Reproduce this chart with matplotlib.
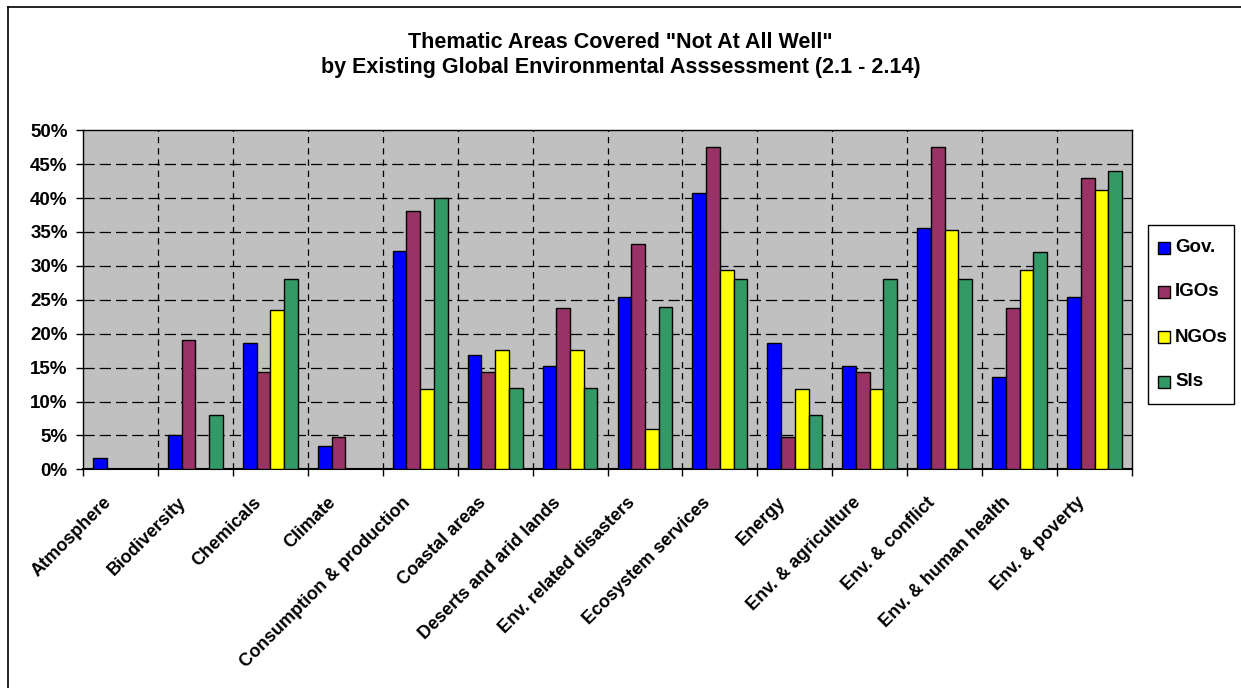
import numpy as np
import matplotlib
matplotlib.use("Agg")
import matplotlib.pyplot as plt
from matplotlib.lines import Line2D
from matplotlib.patches import Rectangle
from matplotlib.transforms import ScaledTranslation
from matplotlib.ticker import FixedLocator, PercentFormatter

plt.rcParams["font.family"] = ["Liberation Sans", "DejaVu Sans"]
plt.rcParams["font.weight"] = "bold"

# Thematic areas (x categories)
categories = [
    "Atmosphere", "Biodiversity", "Chemicals", "Climate",
    "Consumption & production", "Coastal areas", "Deserts and arid lands",
    "Env. related disasters", "Ecosystem services", "Energy",
    "Env. & agriculture", "Env. & conflict", "Env. & human health",
    "Env. & poverty",
]

# Share answering "not at all well" (%)
gov = [1.6, 5.1, 18.6, 3.4, 32.2, 16.9, 15.3, 25.4, 40.7, 18.6, 15.3, 35.6, 13.6, 25.4]
igos = [0.0, 19.0, 14.3, 4.8, 38.1, 14.3, 23.8, 33.3, 47.6, 4.8, 14.3, 47.6, 23.8, 42.9]
ngos = [0.0, 0.0, 23.5, 0.0, 11.8, 17.6, 17.6, 5.9, 29.4, 11.8, 11.8, 35.3, 29.4, 41.2]
sis = [0.0, 8.0, 28.0, 0.0, 40.0, 12.0, 12.0, 24.0, 28.0, 8.0, 28.0, 28.0, 32.0, 44.0]

series = [("Gov.", gov, "#0000FF"), ("IGOs", igos, "#993366"),
          ("NGOs", ngos, "#FFFF00"), ("SIs", sis, "#339966")]

W, H = 1241, 688
fig = plt.figure(figsize=(W / 100, H / 100), dpi=100)
ax = fig.add_axes([83 / W, 1 - 469.3 / H, (1132 - 83) / W, (469.3 - 130.3) / H])
ax.set_facecolor("#C0C0C0")

x = np.arange(len(categories))
w = 0.183
for i, (name, vals, col) in enumerate(series):
    vals = np.asarray(vals)
    keep = vals > 0  # empty categories show no bar at all
    ax.bar(x[keep] + (i - 1.5) * w, vals[keep], w, color=col,
           edgecolor="black", linewidth=1.0, label=name, zorder=3)

ax.set_xlim(-0.5, len(categories) - 0.5)
ax.set_ylim(0, 50)

# dashed grid: horizontal every 5%, vertical between categories
for yv in range(5, 50, 5):
    ax.axhline(yv, color="black", lw=0.9, ls=(0, (9, 4)), zorder=1)
for xv in np.arange(0.5, len(categories) - 0.5, 1):
    ax.axvline(xv, color="black", lw=0.9, ls=(0, (5, 4)), zorder=1)

ax.set_yticks(range(0, 51, 5))
ax.yaxis.set_major_formatter(PercentFormatter(decimals=0))
ax.tick_params(axis="y", direction="out", length=5, width=1, labelsize=13.5,
               pad=6)

ax.set_xticks(x)
ax.set_xticklabels(categories, rotation=45, ha="right", rotation_mode="anchor",
                   fontsize=13, fontweight="bold")
ax.tick_params(axis="x", which="major", length=0, pad=12)
shift = ScaledTranslation(-18 / 100, -8 / 100, fig.dpi_scale_trans)
for lbl in ax.get_xticklabels():
    lbl.set_transform(lbl.get_transform() + shift)
ax.xaxis.set_minor_locator(FixedLocator(np.arange(-0.5, len(categories), 1)))
ax.tick_params(axis="x", which="minor", direction="out", length=5, width=1)

for s in ax.spines.values():
    s.set_color("black")
    s.set_linewidth(1.0)
ax.spines["bottom"].set_linewidth(1.5)

fig.text(0.5, 1 - 42 / H, 'Thematic Areas Covered "Not At All Well"',
         ha="center", va="center", fontsize=15.5, fontweight="bold")
fig.text(0.5, 1 - 68 / H,
         "by Existing Global Environmental Asssessment (2.1 - 2.14)",
         ha="center", va="center", fontsize=15.5, fontweight="bold")

# legend box on the right, built by hand to match the spacing
fig.add_artist(Rectangle((1148 / W, 1 - 404 / H), 86 / W, 179 / H,
                         transform=fig.transFigure, facecolor="white",
                         edgecolor="black", lw=1.0))
row_y = [248, 292, 337, 382]
for (name, _, col), yy in zip(series, row_y):
    fig.add_artist(Rectangle((1158 / W, 1 - (yy + 6) / H), 12 / W, 12 / H,
                             transform=fig.transFigure, facecolor=col,
                             edgecolor="black", lw=1.0))
    fig.text(1175 / W, 1 - yy / H, name, ha="left", va="center",
             fontsize=13.5, fontweight="bold")

# outer chart border (left and top edges)
fig.add_artist(Line2D([8 / W, 8 / W], [0, 1 - 7 / H],
                      transform=fig.transFigure, color="black", lw=1.2))
fig.add_artist(Line2D([8 / W, 1], [1 - 7 / H, 1 - 7 / H],
                      transform=fig.transFigure, color="black", lw=1.2))

fig.savefig("out.png", dpi=100)
